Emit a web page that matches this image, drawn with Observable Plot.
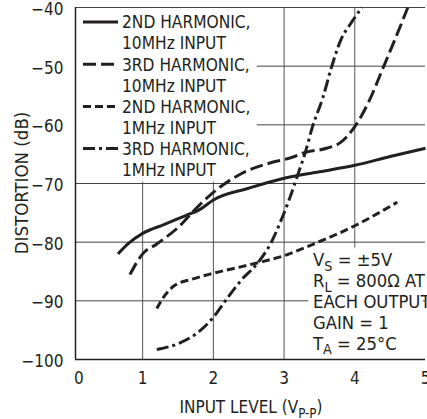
<!DOCTYPE html>
<html><head><meta charset="utf-8">
<script src="https://cdn.jsdelivr.net/npm/d3@7"></script>
<script src="https://cdn.jsdelivr.net/npm/@observablehq/plot@0.6"></script>
<style>
html,body{margin:0;padding:0;background:#fff;}
#chart{position:relative;width:427px;height:419px;overflow:hidden;}
</style></head><body><div id="chart"></div>
<script>
// ---- data ----
const xTicks = [1, 2, 3, 4, 5];
const xZeroTick = [0];
const yTicks = [-100, -90, -80, -70, -60, -50, -40];
const xGrid = [1, 2, 3, 4];
const yGrid = [-90, -80, -70, -60, -50];
const xDomain = [0.05, 5];
const yDomain = [-100, -40];

const seriesNames = ["2ND HARMONIC, 10MHz INPUT", "3RD HARMONIC, 10MHz INPUT", "2ND HARMONIC, 1MHz INPUT", "3RD HARMONIC, 1MHz INPUT"];
const legendLines = [["2ND HARMONIC,", "10MHz INPUT"], ["3RD HARMONIC,", "10MHz INPUT"], ["2ND HARMONIC,", "1MHz INPUT"], ["3RD HARMONIC,", "1MHz INPUT"]];

const h2_10M_x = [0.65, 0.8, 1.0, 1.3, 1.6, 1.8, 2.0, 2.5, 3.0, 3.5, 4.0, 4.5, 5.0];
const h2_10M_y = [-82, -80.2, -78.5, -77, -75.5, -74.5, -72.8, -70.8, -69.1, -68, -66.9, -65.4, -64];
const h3_10M_x = [0.82, 1.0, 1.2, 1.5, 1.75, 2.0, 2.4, 2.8, 3.1, 3.3, 3.6, 3.8, 4.0, 4.2, 4.4, 4.6, 4.75];
const h3_10M_y = [-85.5, -82, -80.3, -77.5, -74.3, -71.5, -68.3, -66.5, -65.6, -64.7, -64, -63, -60.3, -56, -50.3, -44.5, -40];
const h2_1M_x = [1.2, 1.3, 1.45, 1.7, 2.0, 2.6, 3.0, 3.4, 4.0, 4.6];
const h2_1M_y = [-91.3, -89.3, -87.4, -86.3, -85.3, -83.6, -82.3, -80.4, -77.2, -73.2];
const h3_1M_x = [1.2, 1.5, 1.8, 2.0, 2.2, 2.4, 2.63, 2.82, 2.95, 3.07, 3.2, 3.3, 3.4, 3.55, 3.67, 3.8, 3.95, 4.1];
const h3_1M_y = [-98.3, -97.3, -95.2, -92.8, -89.5, -86.4, -83.5, -80, -76.5, -72.8, -68.3, -64.7, -60.4, -55.3, -50.2, -45.6, -42.6, -40];

const noteLines = [[["V", false], ["S", true], [" = ±5V", false]],
                   [["R", false], ["L", true], [" = 800Ω AT", false]],
                   [["EACH OUTPUT", false]],
                   [["GAIN = 1", false]],
                   [["T", false], ["A", true], [" = 25°C", false]]];
const xLabel = [["INPUT LEVEL (V", false], ["P-P", true], [")", false]];
const yLabel = "DISTORTION (dB)";

// layout (white boxes behind the legend and the note)
const legendBox = [{x1: 0.05, x2: 2.62, y1: -69.8, y2: -40}];
const noteBox = [{x1: 3.35, x2: 4.97, y1: -100, y2: -81}];

// ---- build table ----
const xsAll = [h2_10M_x, h3_10M_x, h2_1M_x, h3_1M_x];
const ysAll = [h2_10M_y, h3_10M_y, h2_1M_y, h3_1M_y];
const dashes = [null, "13,5", "8,4", "12,4,3,4"];
const FONT = "'Liberation Sans Narrow','Arial Narrow','DejaVu Sans Condensed',sans-serif";
const INK = "#231f20";

const lineMarks = seriesNames.map((name, i) => {
  const data = xsAll[i].map((x, j) => ({x, y: ysAll[i][j], series: name}));
  return Plot.line(data, {x: "x", y: "y", curve: "monotone-x", stroke: INK, strokeWidth: 3,
    strokeDasharray: dashes[i] || undefined, strokeLinecap: "butt"});
});

const plot = Plot.plot({
  width: 427, height: 419,
  marginLeft: 75, marginRight: 2, marginTop: 7, marginBottom: 60,
  style: {fontFamily: FONT, fontSize: "17px", color: INK, background: "#fff"},
  x: {domain: xDomain},
  y: {domain: yDomain},
  marks: [
    Plot.gridX(xGrid, {stroke: "#555", strokeOpacity: 1, strokeWidth: 1}),
    Plot.gridY(yGrid, {stroke: "#444", strokeOpacity: 1, strokeWidth: 1}),
    Plot.rect(legendBox, {x1: "x1", x2: "x2", y1: "y1", y2: "y2", fill: "#fff"}),
    Plot.rect(noteBox, {x1: "x1", x2: "x2", y1: "y1", y2: "y2", fill: "#fff"}),
    Plot.ruleY([yDomain[1]], {stroke: "#444", strokeWidth: 1}),
    Plot.ruleY([yDomain[0]], {stroke: INK, strokeWidth: 1.5}),
    Plot.ruleX([xDomain[0]], {stroke: INK, strokeWidth: 1.5}),
    Plot.axisX(xTicks, {tickSize: 0, tickPadding: 12, fontSize: 17, label: null}),
    Plot.axisX(xZeroTick, {tickSize: 0, tickPadding: 12, fontSize: 17, label: null, dx: 7}),
    Plot.axisY(yTicks, {tickSize: 0, tickPadding: 12, fontSize: 17, label: null, dy: 2}),
    ...lineMarks
  ]
});
document.getElementById("chart").appendChild(plot);

// ---- text annotations ----
const svg = d3.select(plot);
const g = svg.append("g").attr("font-family", FONT).attr("fill", INK).attr("text-anchor", "start");

function richText(parent, x, y, parts, size, anchor) {
  const t = parent.append("text").attr("x", x).attr("y", y).attr("font-size", size)
    .attr("text-anchor", anchor || "start");
  let down = false;
  parts.forEach(([s, sub]) => {
    const ts = t.append("tspan").text(s);
    if (sub && !down) { ts.attr("dy", 4.5).attr("font-size", size * 0.78); down = true; }
    else if (!sub && down) { ts.attr("dy", -4.5); down = false; }
  });
  return t;
}

// legend
const rowStep = 21.1, firstRow = 22;
legendLines.forEach((lines, i) => {
  lines.forEach((s, k) => {
    const cy = firstRow + (2 * i + k) * rowStep;
    g.append("text").attr("x", 122).attr("y", cy + 6.3).attr("font-size", 17.2)
      .attr("text-anchor", "start").text(s);
  });
  const cy = firstRow + 2 * i * rowStep;
  g.append("line").attr("x1", 83).attr("x2", 118).attr("y1", cy).attr("y2", cy)
    .attr("stroke", INK).attr("stroke-width", 3)
    .attr("stroke-dasharray", dashes[i] || null);
});

// note
const noteStep = 20.8, noteFirst = 260;
noteLines.forEach((parts, i) => {
  richText(g, 313, noteFirst + i * noteStep + 6.3, parts, 18.3);
});

// axis labels
richText(g, 251, 413, xLabel, 17, "middle");
g.append("text").attr("transform", "translate(21.5,183) rotate(-90)")
  .attr("text-anchor", "middle").attr("dominant-baseline", "central")
  .attr("font-size", 18.5).text(yLabel);
</script></body></html>
